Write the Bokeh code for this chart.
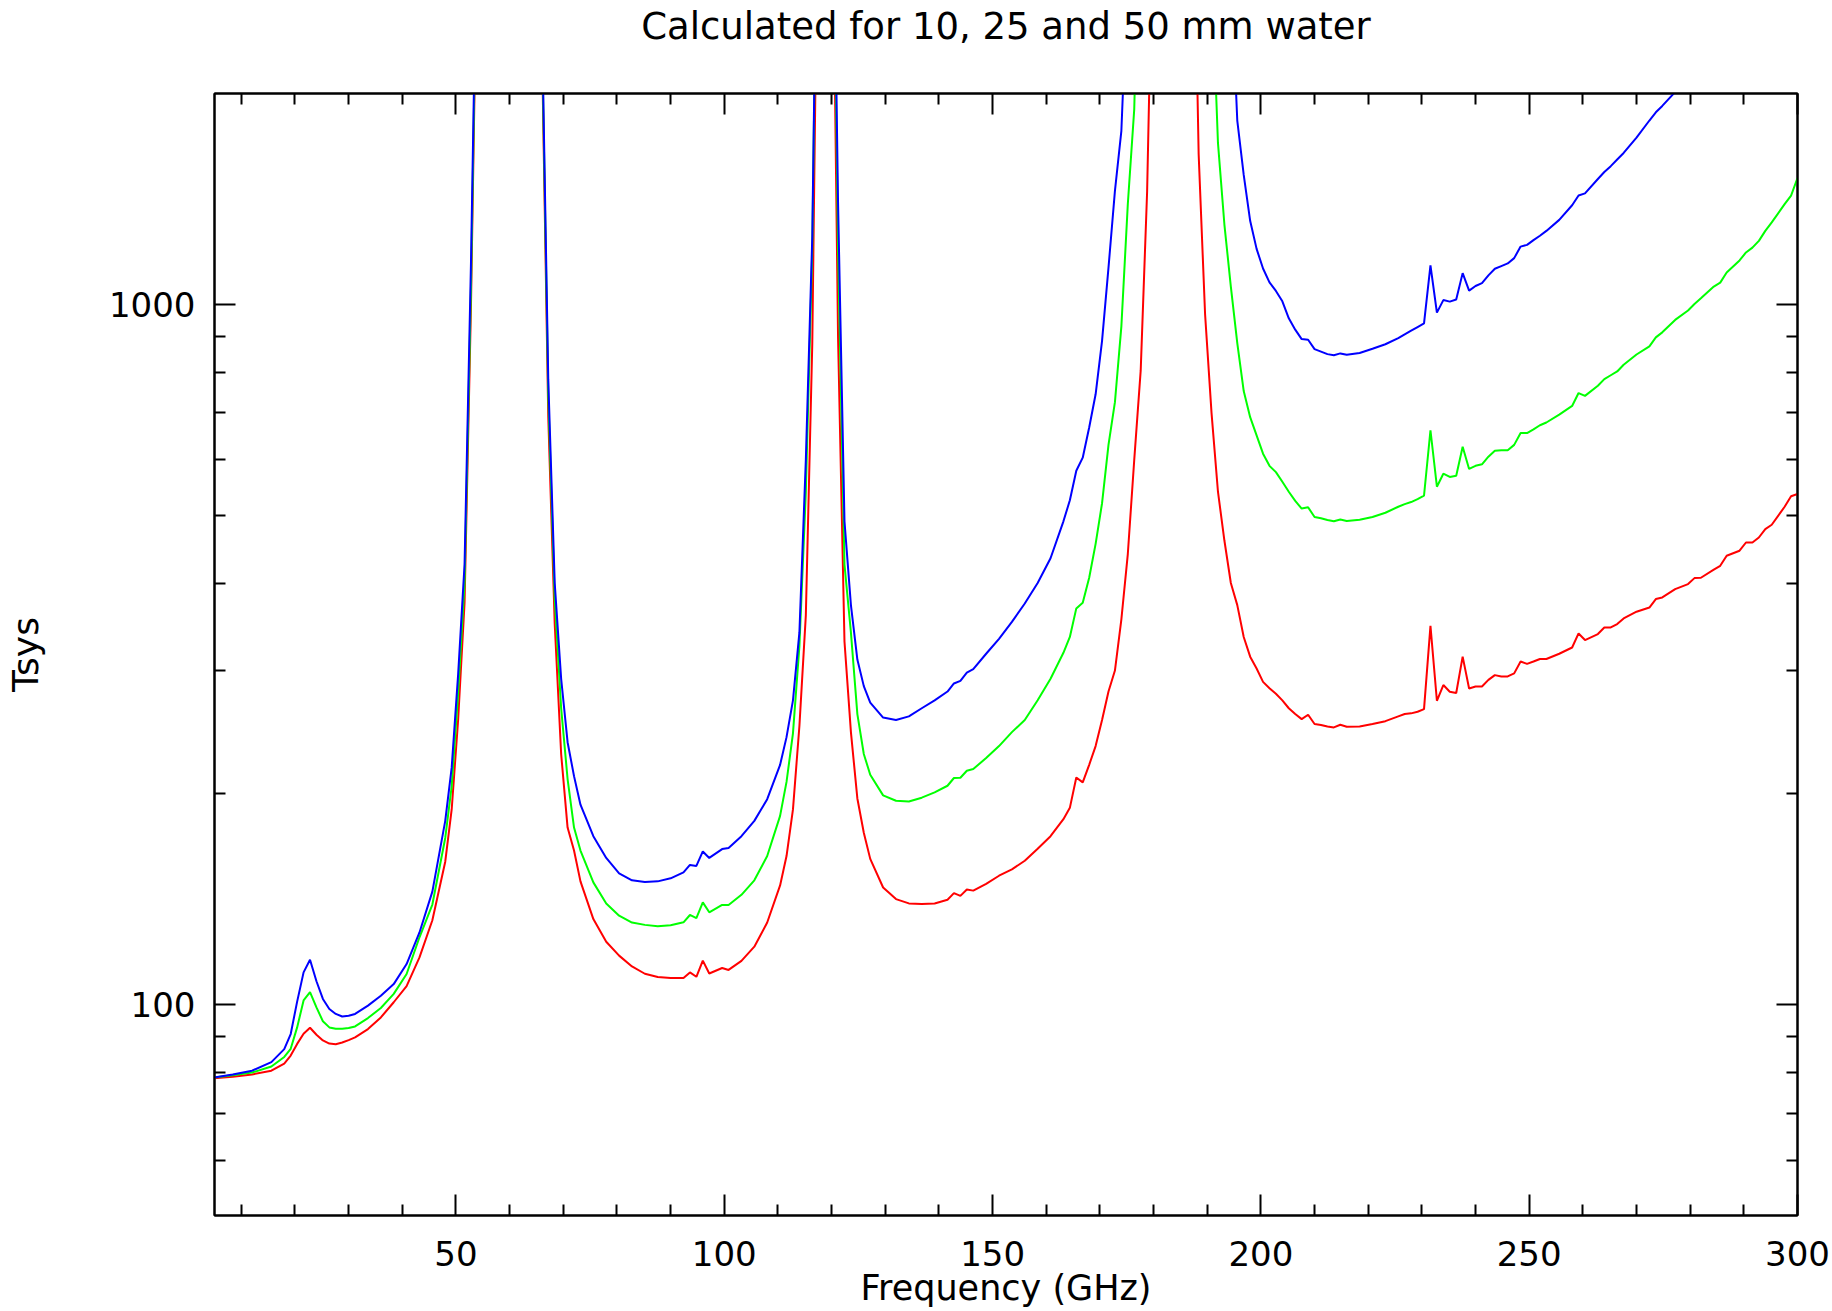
from bokeh.plotting import figure
from bokeh.models import (ColumnDataSource, FixedTicker, LinearAxis, LogAxis, PrintfTickFormatter,
                          Range1d, CustomLabelingPolicy)
from bokeh.embed import file_html
from bokeh.resources import INLINE

NAN = float("nan")

# Frequency grid (GHz)
freq = [
    4.8, 8.4, 12.0, 15.6, 18.0, 19.2, 20.4, 21.6, 22.8, 24.0,
    25.2, 26.4, 27.6, 28.8, 30.0, 31.2, 33.6, 36.0, 38.4, 40.8,
    43.2, 45.6, 48.0, 49.2, 50.4, 51.6, 52.8, 54.0, 56.4, 58.8,
    61.2, 63.6, 66.0, 67.2, 68.4, 69.6, 70.8, 72.0, 73.2, 75.6,
    78.0, 80.4, 82.8, 85.2, 87.6, 90.0, 92.4, 93.6, 94.8, 96.0,
    97.2, 99.6, 100.8, 103.2, 105.6, 108.0, 110.4, 111.6, 112.8, 114.0,
    115.2, 116.4, 117.6, 118.8, 120.0, 121.2, 122.4, 123.6, 124.8, 126.0,
    127.2, 129.6, 132.0, 134.4, 136.8, 139.2, 141.6, 142.8, 144.0, 145.2,
    146.4, 148.8, 151.2, 153.6, 156.0, 158.4, 160.8, 163.2, 164.4, 165.6,
    166.8, 168.0, 169.2, 170.4, 171.6, 172.8, 174.0, 175.2, 176.4, 177.6,
    178.8, 180.0, 182.4, 184.8, 187.2, 188.4, 189.6, 190.8, 192.0, 193.2,
    194.4, 195.6, 196.8, 198.0, 199.2, 200.4, 201.6, 202.8, 204.0, 205.2,
    206.4, 207.6, 208.8, 210.0, 211.2, 212.4, 213.6, 214.8, 216.0, 218.4,
    220.8, 223.2, 225.6, 226.8, 228.0, 229.2, 230.4, 231.6, 232.8, 234.0,
    235.2, 236.4, 237.6, 238.8, 240.0, 241.2, 242.4, 243.6, 244.8, 246.0,
    247.2, 248.4, 249.6, 250.8, 252.0, 253.2, 255.6, 258.0, 259.2, 260.4,
    262.8, 264.0, 265.2, 266.4, 267.6, 270.0, 272.4, 273.6, 274.8, 277.2,
    279.6, 280.8, 282.0, 284.4, 285.6, 286.8, 289.2, 290.4, 291.6, 292.8,
    294.0, 295.2, 297.6, 298.8, 300.0,
]

# Tsys for 50 mm water (blue)
tsys_50mm = [
    78.7, 79.5, 80.5, 82.8, 86.4, 90.8, 101, 111.2, 115.9, 108,
    101.9, 98.6, 97.0, 96.2, 96.4, 97.0, 99.7, 103.0, 107.0, 114.3,
    126.8, 145, 183, 218, 296, 425, 1150, 4000, 2e4, 5e4,
    5e4, 2e4, 2600, 780, 400, 292, 237, 212, 193, 174,
    162, 154, 150.5, 149.7, 150, 151.5, 154.5, 158.3, 157.8, 165.5,
    162, 166.8, 167.4, 174, 183, 196.5, 220, 241, 272, 340,
    600, 1250, 6000, 5e4, 6000, 1400, 490, 372, 311, 285,
    270, 257, 255, 258, 265, 272, 280, 287.5, 290, 298,
    301.4, 317, 333, 352, 374, 400, 434, 490, 525, 578.5,
    604, 667, 744, 887, 1128, 1452, 1769, 3000, 6000, 1.5e4,
    3e4, 5e4, 1e5, 1e5, 4e4, 2e4, 1e4, 7000, 5000, 4000,
    3000, 1830, 1530, 1316, 1200, 1125, 1075, 1045, 1010, 955,
    920, 892, 890, 863, 856, 849, 846, 851, 847, 852,
    864, 877, 895, 906, 917, 928, 939, 1137, 973, 1014,
    1009, 1016, 1108, 1046, 1062, 1072, 1100, 1124, 1134, 1144,
    1164, 1209, 1216, 1235, 1253, 1273, 1320, 1385, 1430, 1440,
    1510, 1545, 1575, 1610, 1645, 1730, 1830, 1880, 1920, 2010,
    2100, NAN, NAN, NAN, NAN, NAN, NAN, NAN, NAN, NAN,
    NAN, NAN, NAN, NAN, NAN,
]

# Tsys for 25 mm water (green)
tsys_25mm = [
    78.7, 79.3, 80.0, 81.6, 84.2, 86.5, 92.8, 101.4, 104.2, 99.1,
    94.7, 92.8, 92.4, 92.4, 92.6, 93.1, 95.7, 98.9, 103.6, 110.6,
    124.8, 139, 173, 205, 278, 400, 1060, 3800, 2e4, 5e4,
    5e4, 2e4, 2500, 740, 380, 265, 210, 179, 166, 149.5,
    139.5, 134, 131, 130, 129.4, 129.8, 131.1, 134.3, 132.9, 140.0,
    135.5, 138.8, 138.8, 143.5, 150.5, 163, 186, 208, 244, 325,
    540, 1200, 6000, 5e4, 6000, 1200, 425, 340, 260, 228,
    213, 199, 195.5, 195, 197.5, 201, 205.4, 210.7, 210.9, 215.8,
    217, 225, 234, 245, 255, 272, 292, 318, 335, 368,
    375, 407, 455, 520, 630, 725, 930, 1390, 1900, 4500,
    1e4, 3e4, 1e5, 1e5, 1.5e4, 6000, 4000, 3000, 1700, 1300,
    1060, 880, 752, 690, 650, 612, 588, 576, 558, 540,
    524, 511, 513, 497, 494.8, 492, 490, 493, 490.5, 492.6,
    497, 504, 514, 518.5, 522, 527, 533, 661, 549, 573,
    567, 569, 626, 582, 588, 591, 606, 618, 619, 619,
    630, 655, 655, 663, 672, 678, 696, 716, 747, 740,
    765, 782, 792, 802, 820, 848, 871, 897, 912, 950,
    980, 1001, 1020, 1060, 1074, 1110, 1155, 1186, 1205, 1232,
    1273, 1309, 1390, 1430, 1515,
]

# Tsys for 10 mm water (red)
tsys_10mm = [
    78.5, 78.9, 79.5, 80.5, 82.4, 84.6, 87.9, 90.9, 92.7, 90.6,
    88.9, 88.0, 87.8, 88.3, 89.0, 89.8, 92.3, 95.9, 100.8, 106.3,
    116.8, 132, 160, 190, 255, 375, 1000, 3600, 2e4, 5e4,
    5e4, 2e4, 2400, 690, 350, 228, 179, 166, 150, 132.5,
    123, 117.5, 113.4, 110.7, 109.5, 109.2, 109.2, 111.2, 109.6, 115.6,
    110.8, 112.8, 112.1, 115.5, 121, 131, 148, 163, 190, 250,
    360, 880, 5000, 5e4, 5000, 900, 330, 245, 197, 176,
    161.5, 147, 141.5, 139.5, 139.2, 139.5, 141.2, 144.3, 143, 146,
    145.5, 148.8, 152.8, 156, 160.5, 167, 174, 184, 191, 211,
    207.7, 220, 234, 255, 280, 300, 355, 440, 600, 804,
    1450, 4000, 2e4, 3e4, 5000, 1640, 968, 700, 540, 460,
    400, 372, 335, 314, 302, 289, 283, 278, 272, 265,
    260, 255.7, 259.4, 251.6, 250.8, 249.5, 248.8, 251, 249.4, 249.6,
    251.6, 254, 258, 260, 260.6, 262, 264.3, 347.5, 271.6, 286,
    279.8, 278.6, 314, 282.8, 284.7, 284.7, 290.9, 295.5, 294.2, 294.2,
    297.2, 309, 306.6, 309, 311.6, 311.6, 317, 323.6, 338.9, 331.6,
    338.2, 345.6, 345.6, 349.5, 356, 364, 369, 379.5, 381.5, 392,
    398.6, 406.5, 407, 418, 423.3, 437.5, 444.8, 457, 457, 464.6,
    477.6, 484.4, 514, 532, 536,
]

x_major = [50, 100, 150, 200, 250, 300]
x_minor = [10, 20, 30, 40, 60, 70, 80, 90, 110, 120, 130, 140, 160, 170, 180, 190,
           210, 220, 230, 240, 260, 270, 280, 290]
y_major = [100, 1000]
y_minor = [60, 70, 80, 90, 200, 300, 400, 500, 600, 700, 800, 900]

FONT = "DejaVu Sans"

p = figure(width=1832, height=1311,
           x_range=Range1d(5, 300), y_range=Range1d(50, 2000),
           y_axis_type="log", output_backend="svg", toolbar_location=None,
           min_border_left=214, min_border_right=35,
           min_border_top=91, min_border_bottom=96)

p.title.text = "Calculated for 10, 25 and 50 mm water"
p.title.align = "center"
p.title.text_font = FONT
p.title.text_font_size = "37px"
p.title.text_font_style = "normal"
p.title.text_color = "black"
p.title.standoff = 4

p.xgrid.visible = False
p.ygrid.visible = False
p.outline_line_color = "black"
p.outline_line_width = 2
p.background_fill_color = "white"
p.border_fill_color = "white"

xt = FixedTicker(ticks=x_major, minor_ticks=x_minor)
yt = FixedTicker(ticks=y_major, minor_ticks=y_minor)


def style(ax):
    ax.axis_line_color = "black"
    ax.axis_line_width = 2
    ax.major_tick_in = 21
    ax.major_tick_out = 0
    ax.minor_tick_in = 11
    ax.minor_tick_out = 0
    ax.major_tick_line_width = 2
    ax.minor_tick_line_width = 2
    ax.major_tick_line_color = "black"
    ax.minor_tick_line_color = "black"
    ax.major_label_text_font = FONT
    ax.major_label_text_font_size = "34px"
    ax.major_label_text_color = "black"
    ax.axis_label_text_font = FONT
    ax.axis_label_text_font_size = "36px"
    ax.axis_label_text_font_style = "normal"
    ax.axis_label_text_color = "black"


def mirror(ax, gap):
    # tick marks only, no labels (mirrored frame ticks)
    style(ax)
    ax.major_label_text_font_size = "2px"
    ax.major_label_standoff = gap
    ax.major_label_policy = CustomLabelingPolicy(code="return new Set()")


xb = p.xaxis[0]
yl = p.yaxis[0]
xb.ticker = xt
yl.ticker = yt
yl.formatter = PrintfTickFormatter(format="%d")
style(xb)
style(yl)
xb.axis_label = "Frequency (GHz)"
xb.axis_label_text_font_size = "35px"
xb.major_label_standoff = 25
xb.axis_label_standoff = -1
yl.axis_label = "Tsys"
yl.major_label_standoff = 19
yl.axis_label_standoff = 60

xtop = LinearAxis(ticker=xt)
mirror(xtop, 39)
p.add_layout(xtop, "above")

yr = LogAxis(ticker=yt)
mirror(yr, 0)
p.add_layout(yr, "right")

src = ColumnDataSource(dict(freq=freq, t10=tsys_10mm, t25=tsys_25mm, t50=tsys_50mm))
p.line("freq", "t10", source=src, line_color="#ff0000", line_width=2)
p.line("freq", "t25", source=src, line_color="#00ff00", line_width=2)
p.line("freq", "t50", source=src, line_color="#0000ff", line_width=2)

open("out.html", "w").write(file_html(p, INLINE))
